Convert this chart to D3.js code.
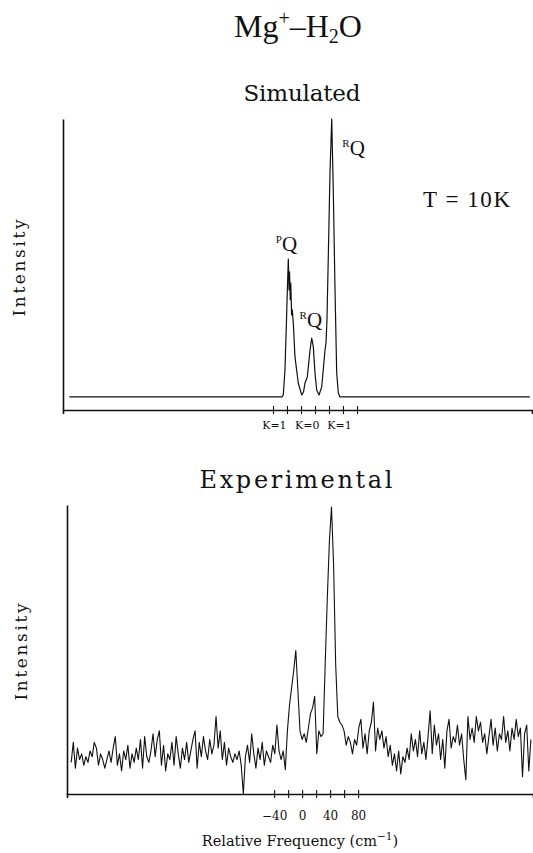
<!DOCTYPE html>
<html>
<head>
<meta charset="utf-8">
<script src="https://cdn.jsdelivr.net/npm/d3@7"></script>
<style>
  body { margin: 0; background: #fff; }
  text { fill: #111; }
</style>
</head>
<body>
<svg id="fig" width="533" height="853"></svg>
<script>
// ---- Simulated Mg+-H2O band contour (relative frequency in cm-1, relative intensity)
const simFreq = [-331, -27.1, -25.3, -22.9, -20.7, -19.3, -18.1, -17.1, -16.4, -15.3, -14.6, -13.4,
  -12.4, -11, -8.6, -3.9, 1, 3.6, 5.7, 9, 12.9, 15.3, 17.6, 20, 22.4, 25.7, 29.6, 34.3, 35.7, 37.1,
  39, 41.4, 43.9, 46.1, 48.6, 51, 53.3, 55.7, 327];
const simInt = [0, 0, 0.007, 0.097, 0.277, 0.403, 0.496, 0.385, 0.45, 0.35, 0.41, 0.295,
  0.313, 0.266, 0.144, 0.05, 0.007, 0.018, 0.05, 0.072, 0.169, 0.212, 0.18, 0.086, 0.025, 0.007, 0.036, 0.169, 0.194, 0.277,
  0.504, 0.806, 1.0, 0.745, 0.385, 0.086, 0.014, 0, 0];

// ---- Experimental photodissociation spectrum (relative frequency in cm-1, relative intensity)
const expFreq = [
  -330, -327, -324, -321, -318, -315, -312, -309, -306, -303,
  -300, -297, -294, -291, -288, -285, -282, -279, -276, -273,
  -270, -267, -264, -261, -258, -255, -252, -249, -246, -243,
  -240, -237, -234, -231, -228, -225, -222, -219, -216, -213,
  -210, -207, -204, -201, -198, -195, -192, -189, -186, -183,
  -180, -177, -174, -171, -168, -165, -162, -159, -156, -153,
  -150, -147, -144, -141, -138, -135, -132, -129, -126, -123,
  -120, -117, -114, -111, -108, -105, -102, -99, -96, -93,
  -90, -87, -84, -81, -78, -75, -72, -69, -66, -63,
  -60, -57, -54, -51, -48, -45, -42, -39, -36, -33,
  -30, -27, -24, -21, -18, -15, -12, -9, -6, -3,
  0, 3, 6, 9, 12, 15, 18, 21, 24, 27,
  30, 33, 36, 39, 42, 45, 48, 51, 54, 57,
  60, 63, 66, 69, 72, 75, 78, 81, 84, 87,
  90, 93, 96, 99, 102, 105, 108, 111, 114, 117,
  120, 123, 126, 129, 132, 135, 138, 141, 144, 147,
  150, 153, 156, 159, 162, 165, 168, 171, 174, 177,
  180, 183, 186, 189, 192, 195, 198, 201, 204, 207,
  210, 213, 216, 219, 222, 225, 228, 231, 234, 237,
  240, 243, 246, 249, 252, 255, 258, 261, 264, 267,
  270, 273, 276, 279, 282, 285, 288, 291, 294, 297,
  300, 303, 306, 309, 312, 315, 318, 321, 324, 327
];
const expInt = [
  0.11, 0.18, 0.09, 0.16, 0.12, 0.14, 0.10, 0.13, 0.11, 0.15,
  0.13, 0.18, 0.16, 0.10, 0.14, 0.12, 0.09, 0.12, 0.15, 0.11,
  0.16, 0.20, 0.10, 0.14, 0.08, 0.15, 0.12, 0.17, 0.09, 0.14,
  0.11, 0.16, 0.12, 0.19, 0.09, 0.20, 0.13, 0.11, 0.15, 0.21,
  0.13, 0.19, 0.22, 0.10, 0.17, 0.08, 0.14, 0.12, 0.18, 0.10,
  0.20, 0.14, 0.09, 0.16, 0.12, 0.18, 0.11, 0.15, 0.19, 0.22,
  0.09, 0.18, 0.13, 0.20, 0.15, 0.12, 0.19, 0.14, 0.17, 0.27,
  0.16, 0.22, 0.12, 0.18, 0.10, 0.16, 0.13, 0.11, 0.14, 0.12,
  0.15, 0.10, 0.00, 0.13, 0.17, 0.11, 0.21, 0.14, 0.09, 0.16,
  0.12, 0.18, 0.10, 0.15, 0.13, 0.11, 0.17, 0.14, 0.24, 0.15,
  0.12, 0.15, 0.085, 0.22, 0.31, 0.37, 0.43, 0.50, 0.36, 0.22,
  0.19, 0.21, 0.18, 0.23, 0.28, 0.30, 0.34, 0.14, 0.22, 0.20,
  0.21, 0.45, 0.68, 0.88, 1.00, 0.80, 0.45, 0.27, 0.25, 0.24,
  0.22, 0.17, 0.20, 0.18, 0.14, 0.19, 0.17, 0.23, 0.26, 0.16,
  0.21, 0.14, 0.22, 0.25, 0.32, 0.15, 0.23, 0.19, 0.22, 0.16,
  0.20, 0.13, 0.17, 0.10, 0.14, 0.08, 0.15, 0.07, 0.13, 0.11,
  0.16, 0.12, 0.21, 0.15, 0.19, 0.13, 0.22, 0.14, 0.18, 0.12,
  0.20, 0.29, 0.14, 0.24, 0.17, 0.21, 0.12, 0.19, 0.09, 0.22,
  0.26, 0.16, 0.20, 0.18, 0.24, 0.17, 0.21, 0.12, 0.05, 0.27,
  0.19, 0.23, 0.18, 0.27, 0.22, 0.25, 0.18, 0.21, 0.14, 0.20,
  0.26, 0.17, 0.23, 0.15, 0.21, 0.19, 0.27, 0.18, 0.22, 0.15,
  0.23, 0.19, 0.26, 0.20, 0.23, 0.06, 0.21, 0.24, 0.08, 0.19
];

// ---- Axis ticks and labels
const tickValues = [-40, -20, 0, 20, 40, 60, 80];
const tickLabels = ["\u221240", "", "0", "", "40", "", "80"];
const kLabels = ["K=1", "K=0", "K=1"];
const kLabelFreq = [-38, 9, 55];

// Branch labels on the simulated contour: superscript branch, anchor frequency, anchor intensity
const branchSup = ["P", "R", "R"];
const branchFreq = [-36, -2, 59];
const branchInt = [0.525, 0.25, 0.87];

const svg = d3.select("#fig");
const serif = "'DejaVu Serif', serif";
const roman = "'Liberation Serif', serif";

// ---- Scales
const xTop = d3.scaleLinear().domain([-340, 330]).range([63, 532]);
const yTop = d3.scaleLinear().domain([-0.047, 1]).range([410, 119]);
const xBot = d3.scaleLinear().domain([-336, 330]).range([67, 533]);
const yBot = d3.scaleLinear().domain([0, 1.007]).range([794, 505]);

function drawAxes(x, y) {
  const [y0] = y.range();
  const gx = svg.append("g")
    .attr("transform", `translate(0,${y0})`)
    .call(d3.axisBottom(x).tickValues(tickValues).tickSizeOuter(0).tickSize(4)
      .tickFormat((d, i) => (x === xBot ? tickLabels[i] : "")));
  gx.selectAll(".tick line").attr("y1", -4).attr("y2", 4).attr("stroke", "#111").attr("stroke-width", 1.1);
  gx.selectAll(".tick text").attr("y", 26).attr("dy", null)
    .attr("font-family", serif).attr("font-size", 12).attr("fill", "#111");
  gx.select(".domain").attr("stroke", "#111").attr("stroke-width", 1.6);

  const gy = svg.append("g")
    .attr("transform", `translate(${x.range()[0]},0)`)
    .call(d3.axisLeft(y).tickValues([]).tickSizeOuter(0));
  gy.select(".domain").attr("stroke", "#111").attr("stroke-width", 1.6);
}

function drawTrace(x, y, fr, it, w) {
  const line = d3.line().x(d => x(d[0])).y(d => y(d[1]));
  svg.append("path")
    .datum(d3.zip(fr, it))
    .attr("d", line)
    .attr("fill", "none")
    .attr("stroke", "#111")
    .attr("stroke-width", w)
    .attr("stroke-linejoin", "round");
}

drawAxes(xTop, yTop);
drawAxes(xBot, yBot);
drawTrace(xTop, yTop, simFreq, simInt, 1.2);
drawTrace(xBot, yBot, expFreq, expInt, 1.1);

// ---- Title
const title = svg.append("text")
  .attr("x", 298).attr("y", 37).attr("text-anchor", "middle")
  .attr("font-family", roman).attr("font-size", 32);
title.append("tspan").text("Mg");
title.append("tspan").attr("dy", -12).attr("font-size", 20).text("+");
title.append("tspan").attr("dy", 12).text("\u2013H");
title.append("tspan").attr("dy", 6).attr("font-size", 20).text("2");
title.append("tspan").attr("dy", -6).text("O");

// ---- Panel headings
svg.append("text").attr("x", 302).attr("y", 101).attr("text-anchor", "middle")
  .attr("font-family", serif).attr("font-size", 23)
  .attr("textLength", 117).attr("lengthAdjust", "spacing").text("Simulated");
svg.append("text").attr("x", 296).attr("y", 488).attr("text-anchor", "middle")
  .attr("font-family", serif).attr("font-size", 24)
  .attr("textLength", 193).attr("lengthAdjust", "spacing").text("Experimental");

// ---- Y axis titles
[[25, 268], [27, 652]].forEach(([tx, ty]) => {
  svg.append("text")
    .attr("transform", `translate(${tx},${ty}) rotate(-90)`)
    .attr("text-anchor", "middle")
    .attr("font-family", serif).attr("font-size", 17)
    .attr("textLength", 97).attr("lengthAdjust", "spacing")
    .text("Intensity");
});

// ---- X axis title
const xt = svg.append("text").attr("x", 300).attr("y", 846).attr("text-anchor", "middle")
  .attr("font-family", serif).attr("font-size", 14.5);
xt.append("tspan").text("Relative Frequency (cm");
xt.append("tspan").attr("dy", -6).attr("font-size", 10.5).text("\u22121");
xt.append("tspan").attr("dy", 6).text(")");

// ---- Temperature
svg.append("text").attr("x", 423).attr("y", 207)
  .attr("font-family", roman).attr("font-size", 23)
  .attr("textLength", 87).attr("lengthAdjust", "spacing").text("T = 10K");

// ---- K labels under the simulated axis
kLabels.forEach((k, i) => {
  svg.append("text").attr("x", xTop(kLabelFreq[i])).attr("y", 429)
    .attr("text-anchor", "middle")
    .attr("font-family", serif).attr("font-size", 11).text(k);
});

// ---- Branch labels
branchSup.forEach((s, i) => {
  const t = svg.append("text")
    .attr("x", xTop(branchFreq[i])).attr("y", yTop(branchInt[i]))
    .attr("font-family", roman).attr("font-size", 21);
  t.append("tspan").attr("dy", -8).attr("font-size", 11).text(s);
  t.append("tspan").attr("dy", 8).text("Q");
});
</script>
</body>
</html>
